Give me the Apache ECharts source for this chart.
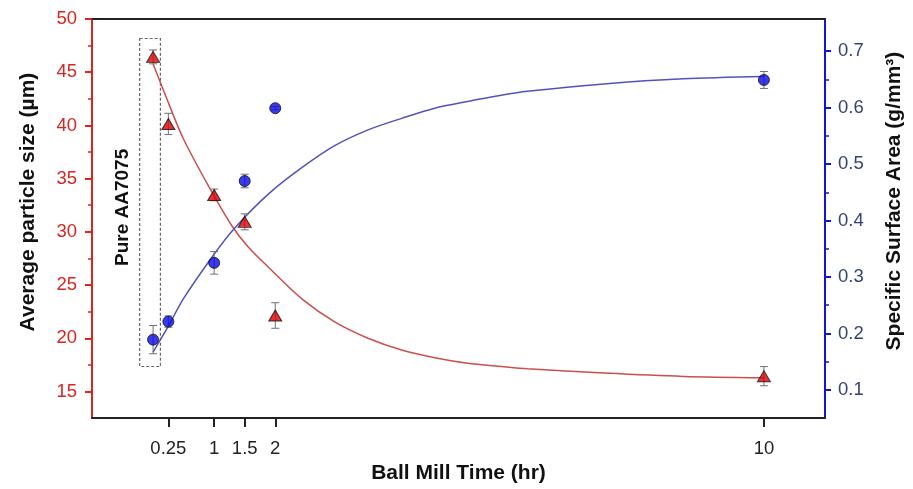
<!DOCTYPE html>
<html>
<head>
<meta charset="utf-8">
<script src="https://cdn.jsdelivr.net/npm/echarts@6/dist/echarts.min.js"></script>
<style>
  html, body { margin: 0; padding: 0; background: #ffffff; }
  #chart { width: 913px; height: 489px; }
</style>
</head>
<body>
<div id="chart"></div>
<script>
// Ball mill time (hr) of each measurement; 0 = as-received AA7075 powder
const millTime = [0, 0.25, 1, 1.5, 2, 10];

// Average particle size (µm) and its error
const particleSize = [46.44, 40.14, 33.47, 30.94, 22.14, 16.44];
const particleErr = [0.65, 1.0, 0.55, 0.75, 1.2, 0.9];

// Specific surface area (g/mm³) and its error
const surfaceArea = [0.189, 0.221, 0.325, 0.470, 0.599, 0.649];
const surfaceErr = [0.025, 0.01, 0.02, 0.012, 0.003, 0.015];

// Fitted trend curves, sampled as [time, value]
const sizeFit = [
  [0, 45.77], [0.16, 43.45], [0.49, 38.82], [0.98, 33.56], [1.30, 30.48],
  [1.55, 28.62], [1.90, 26.61], [2.44, 23.68], [2.98, 21.52], [3.53, 19.98],
  [4.07, 18.89], [4.61, 18.18], [5.15, 17.66], [5.70, 17.35], [6.13, 17.13],
  [7.38, 16.73], [8.68, 16.42], [10, 16.30]
];
const areaFit = [
  [0, 0.167], [0.25, 0.213], [0.5, 0.262], [0.99, 0.339], [1.33, 0.386],
  [1.90, 0.448], [2.44, 0.494], [2.98, 0.533], [3.53, 0.561], [4.07, 0.581],
  [4.61, 0.599], [5.15, 0.611], [5.70, 0.622], [6.13, 0.629], [7.38, 0.642],
  [8.68, 0.651], [10, 0.655]
];

// Tick positions
const timeTicks = [0.25, 1, 1.5, 2, 10];
const sizeTicks = [15, 20, 25, 30, 35, 40, 45, 50];
const sizeMinorTicks = [17.5, 22.5, 27.5, 32.5, 37.5, 42.5, 47.5];
const areaTicks = [0.1, 0.2, 0.3, 0.4, 0.5, 0.6, 0.7];
const areaMinorTicks = [0.15, 0.25, 0.35, 0.45, 0.55, 0.65];

// Box drawn around the unmilled sample: [time, size] corners
const pureBox = [[-0.22, 48.17], [0.12, 17.35]];
const pureLabel = 'Pure AA7075';

const FONT = 'Arial, "Liberation Sans", sans-serif';
const RED = '#d7261f';
const BLUE = '#1414d6';

const chart = echarts.init(document.getElementById('chart'), null, { renderer: 'canvas' });

function errorBars(values, errs) {
  return millTime.map((t, i) => [t, values[i] - errs[i], values[i] + errs[i]]);
}

function renderErr(params, api) {
  const x = api.value(0);
  const lo = api.coord([x, api.value(1)]);
  const hi = api.coord([x, api.value(2)]);
  const w = 4;
  const style = { stroke: '#707070', lineWidth: 1 };
  return {
    type: 'group',
    children: [
      { type: 'line', shape: { x1: lo[0], y1: lo[1], x2: hi[0], y2: hi[1] }, style },
      { type: 'line', shape: { x1: lo[0] - w, y1: lo[1], x2: lo[0] + w, y2: lo[1] }, style },
      { type: 'line', shape: { x1: hi[0] - w, y1: hi[1], x2: hi[0] + w, y2: hi[1] }, style }
    ]
  };
}

const sizeAxisBase = { type: 'value', min: 12.5, max: 50, position: 'left', splitLine: { show: false } };
const areaAxisBase = { type: 'value', min: 0.05, max: 0.757, position: 'right', splitLine: { show: false } };

chart.setOption({
  animation: false,
  backgroundColor: '#ffffff',
  grid: { left: 92, right: 84, top: 19, bottom: 65, containLabel: false },
  xAxis: [
    {
      type: 'value', min: -1, max: 11, position: 'bottom',
      name: 'Ball Mill Time (hr)', nameLocation: 'middle', nameGap: 44,
      nameTextStyle: { fontFamily: FONT, fontSize: 21, fontWeight: 'bold', color: '#111' },
      axisLine: { show: true, onZero: false, lineStyle: { color: '#222', width: 2 } },
      axisTick: { show: true, customValues: timeTicks, length: 9, lineStyle: { color: '#222', width: 2 } },
      axisLabel: {
        customValues: timeTicks, margin: 21, fontFamily: FONT, fontSize: 18.5, color: '#222',
        formatter: v => String(v)
      },
      splitLine: { show: false }
    },
    {
      type: 'value', min: -1, max: 11, position: 'top',
      axisLine: { show: true, onZero: false, lineStyle: { color: '#222', width: 2 } },
      axisTick: { show: false }, axisLabel: { show: false }, splitLine: { show: false }
    }
  ],
  yAxis: [
    Object.assign({}, sizeAxisBase, {
      name: 'Average particle size (µm)', nameLocation: 'middle', nameGap: 53,
      nameTextStyle: { fontFamily: FONT, fontSize: 21, fontWeight: 'bold', color: '#111', padding: [0, 0, 0, 33] },
      axisLine: { show: true, onZero: false, lineStyle: { color: RED, width: 2 } },
      axisTick: { show: true, customValues: sizeTicks, length: 7, lineStyle: { color: RED, width: 2 } },
      axisLabel: { customValues: sizeTicks, margin: 15, fontFamily: FONT, fontSize: 18.5, color: RED }
    }),
    Object.assign({}, areaAxisBase, {
      name: 'Specific Surface Area (g/mm³)', nameLocation: 'middle', nameGap: 59,
      nameTextStyle: { fontFamily: FONT, fontSize: 21, fontWeight: 'bold', color: '#111', padding: [0, 0, 0, 35] },
      axisLine: { show: true, onZero: false, lineStyle: { color: BLUE, width: 2 } },
      axisTick: { show: true, customValues: areaTicks, length: 6, lineStyle: { color: BLUE, width: 2 } },
      axisLabel: {
        customValues: areaTicks, margin: 13, fontFamily: FONT, fontSize: 18.5, color: '#34427a',
        formatter: v => v.toFixed(1)
      }
    }),
    Object.assign({}, sizeAxisBase, {
      axisLine: { show: false, onZero: false },
      axisTick: { show: true, customValues: sizeMinorTicks, length: 4, lineStyle: { color: RED, width: 1.5 } },
      axisLabel: { show: false }
    }),
    Object.assign({}, areaAxisBase, {
      axisLine: { show: false, onZero: false },
      axisTick: { show: true, customValues: areaMinorTicks, length: 4, lineStyle: { color: BLUE, width: 1.5 } },
      axisLabel: { show: false }
    })
  ],
  series: [
    {
      name: 'size fit', type: 'line', xAxisIndex: 0, yAxisIndex: 0,
      data: sizeFit, smooth: 0.3, showSymbol: false, symbol: 'none',
      lineStyle: { color: '#cb4f4c', width: 1.5 }, z: 2,
      markArea: {
        silent: true,
        itemStyle: { color: 'rgba(0,0,0,0)', borderColor: '#666', borderWidth: 1.2, borderType: [3, 2] },
        data: [[{ coord: pureBox[0] }, { coord: pureBox[1] }]]
      }
    },
    {
      name: 'area fit', type: 'line', xAxisIndex: 0, yAxisIndex: 1,
      data: areaFit, smooth: 0.3, showSymbol: false, symbol: 'none',
      lineStyle: { color: '#5252bd', width: 1.5 }, z: 2
    },
    {
      name: 'size error', type: 'custom', xAxisIndex: 0, yAxisIndex: 0,
      data: errorBars(particleSize, particleErr), renderItem: renderErr, z: 3
    },
    {
      name: 'area error', type: 'custom', xAxisIndex: 0, yAxisIndex: 1,
      data: errorBars(surfaceArea, surfaceErr), renderItem: renderErr, z: 3
    },
    {
      name: 'particle size', type: 'scatter', xAxisIndex: 0, yAxisIndex: 0,
      data: millTime.map((t, i) => [t, particleSize[i]]),
      symbol: 'triangle', symbolSize: [13, 11],
      itemStyle: { color: '#e00000', borderColor: '#111', borderWidth: 1 }, z: 4
    },
    {
      name: 'surface area', type: 'scatter', xAxisIndex: 0, yAxisIndex: 1,
      data: millTime.map((t, i) => [t, surfaceArea[i]]),
      symbol: 'circle', symbolSize: 11,
      itemStyle: { color: '#0a0ae6', borderColor: '#111', borderWidth: 1 }, z: 4
    }
  ]
});

// Vertical caption beside the dashed box, anchored in data coordinates
const labelAnchor = chart.convertToPixel({ xAxisIndex: 0, yAxisIndex: 0 }, [-0.5, 32.3]);
chart.setOption({
  graphic: [{
    type: 'text',
    x: labelAnchor[0], y: labelAnchor[1], rotation: Math.PI / 2,
    style: {
      text: pureLabel, fontFamily: FONT, fontSize: 19, fontWeight: 'bold',
      fill: '#111', align: 'center', verticalAlign: 'middle'
    }
  }]
});
</script>
</body>
</html>
